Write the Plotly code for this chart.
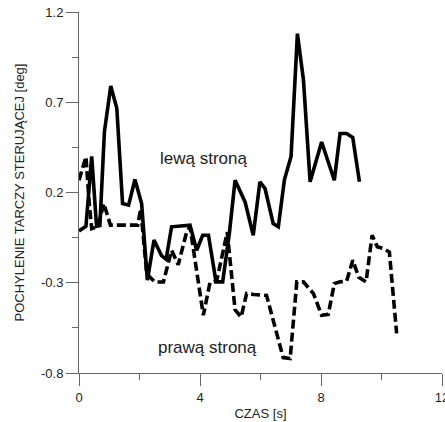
import plotly.graph_objects as go

# Data
left_t = [0, 0.23, 0.42, 0.58, 0.69, 0.84, 1.05, 1.25, 1.44, 1.64, 1.85, 2.07, 2.26, 2.48,
          2.73, 2.88, 3.06, 3.67, 3.89, 4.09, 4.28, 4.53, 4.75, 4.97, 5.16, 5.49, 5.76,
          5.98, 6.15, 6.42, 6.59, 6.79, 7.01, 7.22, 7.42, 7.64, 8.02, 8.44, 8.63, 8.85,
          9.05, 9.27]
left_v = [-0.013, 0.013, 0.40, 0.013, 0.017, 0.536, 0.79, 0.666, 0.139, 0.13, 0.272, 0.139,
          -0.286, -0.064, -0.15, -0.17, 0.01, 0.019, -0.12, -0.037, -0.037, -0.295, -0.295,
          -0.027, 0.268, 0.148, -0.037, 0.259, 0.222, 0.028, 0.01, 0.27, 0.40, 1.08, 0.823,
          0.259, 0.48, 0.268, 0.527, 0.527, 0.505, 0.259]

right_t = [0, 0.23, 0.34, 0.42, 0.62, 0.82, 1.04, 1.94, 2.04, 2.24, 2.35, 2.51, 2.79, 3.06,
           3.28, 3.56, 3.67, 4.11, 4.33, 4.55, 4.9, 5.16, 5.36, 5.54, 5.78, 6.2, 6.75, 6.98,
           7.2, 7.42, 7.75, 8.02, 8.24, 8.44, 8.63, 8.85, 9.05, 9.25, 9.49, 9.69, 9.86,
           10.06, 10.26, 10.5]
right_v = [0.268, 0.398, 0.135, 0.0, 0.01, 0.139, 0.019, 0.019, 0.11, -0.25, -0.27, -0.296,
           -0.296, -0.12, -0.2, -0.018, 0.01, -0.48, -0.30, -0.29, -0.02, -0.45, -0.49, -0.36,
           -0.365, -0.37, -0.715, -0.72, -0.295, -0.295, -0.36, -0.48, -0.475, -0.305, -0.295,
           -0.29, -0.175, -0.27, -0.295, -0.037, -0.10, -0.11, -0.13, -0.58]

x_ticks = [0, 4, 8, 12]
x_tick_labels = ["0", "4", "8", "12"]
y_ticks = [-0.8, -0.3, 0.2, 0.7, 1.2]
y_tick_labels = ["-0.8", "-0.3", "0.2", "0.7", "1.2"]
x_minor = [2, 6, 10]
y_minor = [-0.55, -0.05, 0.45, 0.95]

FONT = "Arial, Liberation Sans, sans-serif"

fig = go.Figure()
fig.add_trace(go.Scatter(x=left_t, y=left_v, mode="lines",
                         line=dict(color="black", width=3.6), showlegend=False))
fig.add_trace(go.Scatter(x=right_t, y=right_v, mode="lines",
                         line=dict(color="black", width=3.6, dash="9px,4px"), showlegend=False))

fig.add_annotation(x=4.13, y=0.386, text="lewą stroną", showarrow=False,
                   font=dict(family=FONT, size=17, color="#222"))
fig.add_annotation(x=4.26, y=-0.66, text="prawą stroną", showarrow=False,
                   font=dict(family=FONT, size=17, color="#222"))

axis_common = dict(showgrid=False, zeroline=False, showline=True, linecolor="#666",
                   linewidth=1, ticks="outside", ticklen=12, tickcolor="#666", tickwidth=1,
                   ticklabeloverflow="allow", automargin=False,
                   tickfont=dict(family=FONT, size=13, color="#222"))

fig.update_layout(
    width=445, height=422,
    margin=dict(l=79, r=3, t=12, b=49),
    paper_bgcolor="white", plot_bgcolor="white",
    xaxis=dict(range=[0, 12], tickmode="array", tickvals=x_ticks, ticktext=x_tick_labels,
               title=dict(text="CZAS [s]", font=dict(family=FONT, size=13, color="#222"),
                          standoff=5),
               minor=dict(tickmode="array", tickvals=x_minor, ticks="outside", ticklen=6,
                          tickcolor="#666", showgrid=False),
               **axis_common),
    yaxis=dict(range=[-0.8, 1.2], tickmode="array", tickvals=y_ticks, ticktext=y_tick_labels,
               title=dict(text="POCHYLENIE TARCZY STERUJĄCEJ [deg]",
                          font=dict(family=FONT, size=13, color="#222"), standoff=13),
               minor=dict(tickmode="array", tickvals=y_minor, ticks="outside", ticklen=6,
                          tickcolor="#666", showgrid=False),
               **axis_common),
)

fig.write_html("out.html")
